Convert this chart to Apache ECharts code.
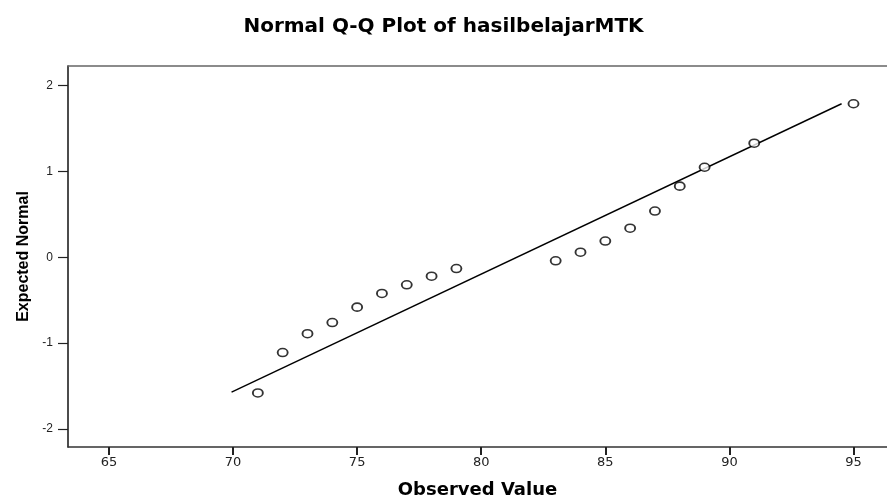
<!DOCTYPE html>
<html>
<head>
<meta charset="utf-8">
<script src="https://cdn.jsdelivr.net/npm/echarts@6/dist/echarts.min.js"></script>
<style>html,body{margin:0;padding:0;background:#fff}#chart{width:887px;height:504px}</style>
</head>
<body>
<div id="chart"></div>
<script>
const titleText = 'Normal Q-Q Plot of hasilbelajarMTK';
const xAxisName = 'Observed Value';
const yAxisName = 'Expected Normal';
const observed = [71, 72, 73, 74, 75, 76, 77, 78, 79, 83, 84, 85, 86, 87, 88, 89, 91, 95];
const expected = [-1.58, -1.11, -0.89, -0.76, -0.58, -0.42, -0.32, -0.22, -0.13, -0.04, 0.06, 0.19, 0.34, 0.54, 0.83, 1.05, 1.33, 1.79];
const lineX = [69.94, 94.52];
const lineY = [-1.57, 1.79];
const xTicks = [65, 70, 75, 80, 85, 90, 95];
const yTicks = [-2, -1, 0, 1, 2];

const chart = echarts.init(document.getElementById('chart'), null, {renderer: 'canvas'});
chart.setOption({
  animation: false,
  backgroundColor: '#fff',
  title: {
    text: titleText, left: 'center', top: 12,
    textStyle: {fontFamily: 'DejaVu Sans', fontWeight: 'bold', fontSize: 20, color: '#000'}
  },
  grid: {left: 68, right: 0, top: 66, bottom: 51},
  xAxis: [{
    type: 'value', min: 63.35, max: 96.35,
    name: xAxisName, nameLocation: 'middle', nameGap: 34,
    nameTextStyle: {fontFamily: 'DejaVu Sans', fontWeight: 'bold', fontSize: 18, color: '#000'},
    axisLine: {show: true, onZero: false, lineStyle: {color: '#333', width: 1.5}},
    axisTick: {show: true, length: 8, customValues: xTicks, lineStyle: {color: '#222', width: 2}},
    axisLabel: {customValues: xTicks, margin: 9, fontFamily: 'DejaVu Sans', fontSize: 13, color: '#222'},
    splitLine: {show: false}
  }, {
    type: 'value', position: 'top', min: 63.35, max: 96.35,
    axisLine: {show: true, onZero: false, lineStyle: {color: '#666', width: 1.5}},
    axisTick: {show: false}, axisLabel: {show: false}, splitLine: {show: false}
  }],
  yAxis: {
    type: 'value', min: -2.21, max: 2.23,
    name: yAxisName, nameLocation: 'middle', nameGap: 35, nameRotate: 90,
    nameTextStyle: {fontFamily: 'Liberation Sans', fontWeight: 'bold', fontSize: 16, color: '#000'},
    axisLine: {show: true, onZero: false, lineStyle: {color: '#111', width: 1.5}},
    axisTick: {show: true, length: 10, customValues: yTicks, lineStyle: {color: '#222', width: 1.2}},
    axisLabel: {customValues: yTicks, margin: 15, fontFamily: 'Liberation Sans', fontSize: 12, color: '#222'},
    splitLine: {show: false}
  },
  series: [{
    type: 'line',
    data: lineX.map((x, i) => [x, lineY[i]]),
    showSymbol: false, symbol: 'none',
    lineStyle: {color: '#000', width: 1.4},
    silent: true, z: 2
  }, {
    type: 'scatter',
    data: observed.map((x, i) => [x, expected[i]]),
    symbol: 'circle', symbolSize: [10, 8],
    itemStyle: {color: '#fff', borderColor: '#000', borderWidth: 1.7},
    z: 3
  }]
});
</script>
</body>
</html>
